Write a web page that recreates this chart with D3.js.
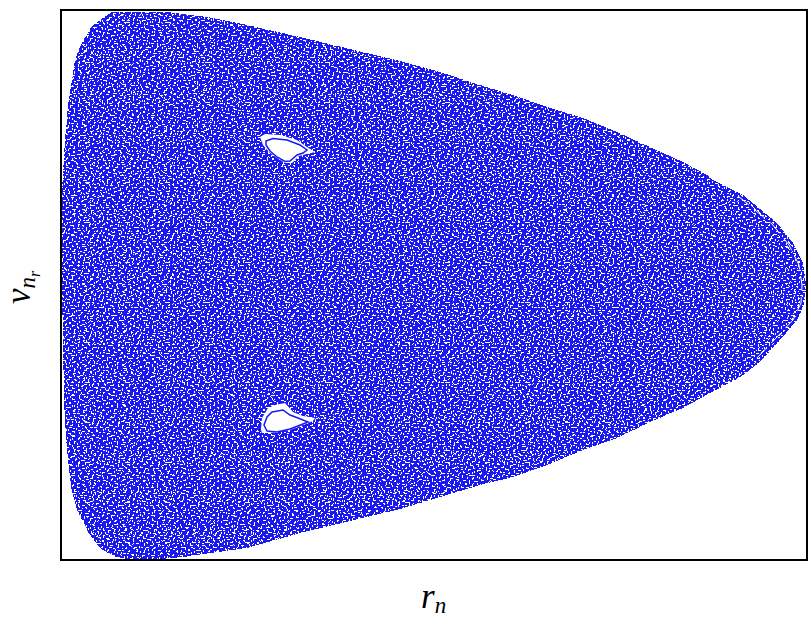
<!DOCTYPE html>
<html>
<head>
<meta charset="utf-8">
<script src="https://cdn.jsdelivr.net/npm/d3@7"></script>
<style>
	body { margin: 0; background: #fff; }
	text { font-family: "Liberation Serif", serif; font-style: italic; fill: #000; }
</style>
</head>
<body>
<div class="chart"></div>
<script>
// Values are read off the picture. The axes have no ticks, so units are nominal.
// The cloud itself is too dense to read point by point: its outline and islands
// are read, and the speckle inside is a hand typed texture, not real points.
const seaLeftR = [51, 39, 29, 19, 14, 11, 7, 4, 1, 0, 1, 2, 3, 5, 10, 16, 27, 39, 52, 66, 99, 122];
const seaLeftV = [273, 265, 257, 238, 225, 205, 180, 145, 95, 45, -5, -55, -115, -155, -202, -225, -247, -263, -271, -274, -274, -272];
const seaRightR = [186, 239, 289, 339, 379, 419, 452, 486, 522, 556, 589, 622, 649, 674, 682, 699, 719, 736, 741, 744, 745, 742, 732, 716, 682, 652, 646, 622, 589, 556, 522, 486, 452, 419, 379, 339, 289, 239, 186, 146, 106];
const seaRightV = [-263, -248, -236, -224, -212, -200, -192, -180, -165, -153, -137, -123, -108, -95, -90, -77, -55, -35, -25, -15, 0, 22, 42, 62, 90, 105, 110, 123, 138, 153, 167, 178, 190, 200, 213, 224, 236, 248, 260, 268, 273];

// thin gap that runs inside the rim near the tip
const rimGapR = [677, 711, 728, 738, 741, 740, 732, 715, 696];
const rimGapV = [89, 61, 40, 20, 0, -18, -35, -53, -73];

const upperIslandR = [199, 204, 219, 236, 246, 254, 246, 238, 231, 224, 216, 208, 202];
const upperIslandV = [148, 151, 150, 145, 138, 133, 131, 129, 122, 122, 127, 133, 140];
const upperCurveR = [205, 212, 226, 239, 246, 242, 236, 229, 224, 216, 209, 205];
const upperCurveV = [144, 146.5, 145, 140, 135, 132, 130, 124, 123.5, 128, 134, 140];
const lowerIslandR = [200, 201, 207, 214, 224, 232, 242, 254, 252, 242, 229, 209, 201];
const lowerIslandV = [-145, -133, -123, -120, -118, -127, -131, -133, -136, -140, -145, -148, -148];
const lowerCurveR = [211, 222, 229, 237, 247, 242, 229, 216, 206, 203, 206];
const lowerCurveV = [-127, -125, -130, -133, -137, -139, -144, -147, -146, -140, -132];

const speckTileA = [
	'..##.........#.........###......#.......',
	'.......#.....#...#............#.....##..',
	'#......#..............##......#.........',
	'#...........###...#...........#...#.....',
	'.....##.........................#.#....#',
	'.............#.....###..#.............#.',
	'..#..........#..............##..........',
	'..#......##......#.....#.............##.',
	'..................#....#....#...#.......',
	'......###.....#............#....#.......',
	'.#............#.......##........#.....#.',
	'.#.........#......#....................#',
	'......#....#.....##.....#####...........',
	'...#..#.........................#...##...',
	'...#.............#..........#..#........',
	'.........###.....#...##.....#...........',
	'.................#......................',
	'##.......................#.......###....',
	'....#.......##.......#...#..............',
	'....#..#................................',
	'.......#.........###........#.......#...',
	'.............#.............##......##...',
	'..##.........#......#..................#',
	'.......##...........#.....##............',
	'...................#............#.......',
	'.#........####.................##....#..',
	'.#.....................#..#.............',
	'......#...........#....#..#.........##..',
	'......#....#......#..........###........',
	'...........#............................',
	'..###................##......#.......#..',
	'.............##.............#.......#...',
	'........#..................#.....#......',
	'.....#..#.......#................#......',
	'.....#..........#....###.....#..........',
	'...........#....................##......',
	'#..........#....#......##...............',
	'#....###........#............#.......#..',
	'.........................#...#.......#..',
	'.............##..........#..............'
];
const speckTileB = [
	'.....#........##...........#.........',
	'.##..#...............#.....#.....##..',
	'..........###........#...............',
	'.....................................',
	'#......#.......#.......###......#....',
	'#......#.......#...............#.....',
	'....................##.........#.....',
	'.....##....#.................#......#',
	'...........#.......................##',
	'..#..............##.....#............',
	'..#.....###.............#....###.....',
	'...............#.....................',
	'.....#.........#..........#........#.',
	'.....#.....................#.......#.',
	'...........##........###.............',
	'.##...............#...........##.....',
	'.........#........#.....#............',
	'.........#...............#......#....',
	'....#............................#...',
	'....#......###.....##.......#........',
	'...........................#.......##',
	'.##..............#...................',
	'.........#.......#......##.....#.....',
	'.....#...#.....................#.....',
	'.....#.............#.................',
	'.............#.....#.....###.........',
	'.#...........#...................##..',
	'.#......##.............#.............',
	'.............................#.......',
	'.....#...........##..........#....#..',
	'....#.......#.........#...........#..',
	'............#.........#.....#........',
	'..##.................................',
	'........#.......###............##....',
	'........#................#...........',
	'...#..................#..#...........',
	'...#.........#.........#.........#...'
];

const margin = { top: 10, right: 4, bottom: 68, left: 61 };
const width = 811 - margin.left - margin.right;
const height = 628 - margin.top - margin.bottom;

const svg = d3.select('.chart')
	.append('svg')
		.attr('width', 811)
		.attr('height', 628)
		.style('display', 'block');

const plot = svg.append('g')
	.attr('transform', `translate(${margin.left}, ${margin.top})`);

const xScale = d3.scaleLinear().domain([0, 746]).range([0, width]);
const yScale = d3.scaleLinear().domain([-275, 275]).range([height, 0]);

const drawShape = d3.line()
	.x(d => xScale(d[0]))
	.y(d => yScale(d[1]))
	.curve(d3.curveLinearClosed);

const drawOpen = d3.line()
	.x(d => xScale(d[0]))
	.y(d => yScale(d[1]));

const blue = '#1a1af0';
const defs = svg.append('defs');

// white speck tiles, two different sizes so the repeat does not show
function addTile(id, rows) {
	const cells = rows.flatMap((row, j) => row.split('').map((c, i) => ({ c, i, j }))).filter(d => d.c === '#');
	defs.append('pattern')
		.attr('id', id)
		.attr('patternUnits', 'userSpaceOnUse')
		.attr('width', rows[0].length)
		.attr('height', rows.length)
		.selectAll('rect')
		.data(cells)
		.enter()
		.append('rect')
			.attr('x', d => d.i)
			.attr('y', d => d.j)
			.attr('width', 1)
			.attr('height', 1)
			.attr('fill', '#fff');
}
addTile('speckA', speckTileA);
addTile('speckB', speckTileB);

// chaotic sea
const seaPath = drawShape(d3.zip(seaLeftR.concat(seaRightR), seaLeftV.concat(seaRightV)));
[blue, 'url(#speckA)', 'url(#speckB)'].forEach(fill => {
	plot.append('path')
		.attr('d', seaPath)
		.attr('fill', fill)
		.attr('shape-rendering', 'crispEdges');
});

plot.append('path')
	.attr('d', drawOpen(d3.zip(rimGapR, rimGapV)))
	.attr('fill', 'none')
	.attr('stroke', '#fff')
	.attr('stroke-width', 1)
	.attr('stroke-dasharray', '14,7');

// islands: white gap, then the closed curve inside
[[upperIslandR, upperIslandV], [lowerIslandR, lowerIslandV]].forEach(d => {
	plot.append('path')
		.attr('d', drawShape(d3.zip(d[0], d[1])))
		.attr('fill', '#fff');
});

[[upperCurveR, upperCurveV], [lowerCurveR, lowerCurveV]].forEach(d => {
	plot.append('path')
		.attr('d', drawShape(d3.zip(d[0], d[1])))
		.attr('fill', 'none')
		.attr('stroke', blue)
		.attr('stroke-width', 1.5);
});

// frame
plot.append('rect')
	.attr('width', width)
	.attr('height', height)
	.attr('fill', 'none')
	.attr('stroke', '#000')
	.attr('stroke-width', 2);

// axis labels
const xLabel = svg.append('text')
	.attr('x', 421)
	.attr('y', 608)
	.style('font-size', '35px');
xLabel.append('tspan').text('r');
xLabel.append('tspan')
	.attr('dy', 5)
	.style('font-size', '23px')
	.text('n');

const yLabel = svg.append('text')
	.attr('transform', 'translate(30, 304) rotate(-90)')
	.style('font-size', '35px');
yLabel.append('tspan').text('v');
yLabel.append('tspan')
	.attr('dy', 5)
	.style('font-size', '23px')
	.text('n');
yLabel.append('tspan')
	.attr('dy', 5)
	.style('font-size', '16px')
	.text('r');
</script>
</body>
</html>
